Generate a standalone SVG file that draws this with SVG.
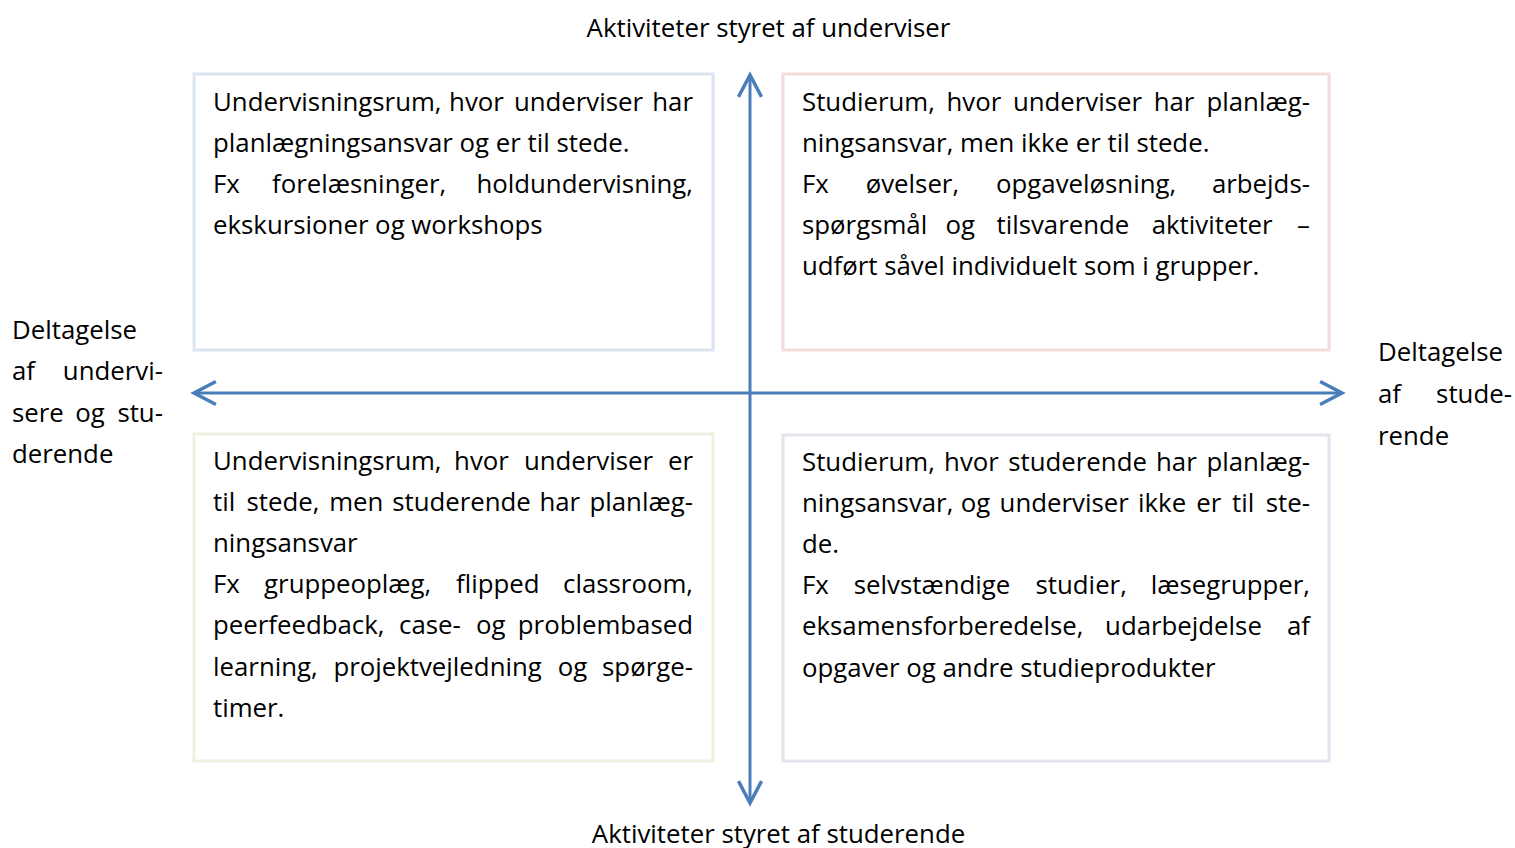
<svg xmlns="http://www.w3.org/2000/svg" width="1515" height="848" viewBox="0 0 1515 848">
<defs>
<style>
text{font-family:"Open Sans","Liberation Sans",sans-serif;font-size:25.8px;fill:#000}
.m{text-anchor:middle}
.e{text-anchor:end}
.box{fill:#fff;stroke-width:3}
.ax{stroke:#4a7ebb;stroke-width:3;fill:none}
</style>
<marker id="ah" markerUnits="userSpaceOnUse" markerWidth="30" markerHeight="30" viewBox="-22 -13 26 26" refX="0" refY="0" orient="auto-start-reverse">
<path d="M-19,-10 L0,0 L-19,10" fill="none" stroke="#4a7ebb" stroke-width="3"/>
</marker>
</defs>
<rect width="1515" height="848" fill="#fff"/>

<g id="connectors">
<line class="ax" x1="750" y1="75" x2="750" y2="803" marker-start="url(#ah)" marker-end="url(#ah)"/>
<line class="ax" x1="194" y1="393" x2="1342" y2="393" marker-start="url(#ah)" marker-end="url(#ah)"/>
</g>

<g id="label-top">
<text class="m" x="768.5" y="37">Aktiviteter styret af underviser</text>
</g>
<g id="label-bottom">
<text class="m" x="778.5" y="843">Aktiviteter styret af studerende</text>
</g>
<g id="label-left">
<text x="12" y="338.5">Deltagelse</text>
<text x="12" y="379.5">af</text><text class="e" x="163" y="379.5">undervi-</text>
<text x="12" y="421.5">sere</text><text class="m" x="90" y="421.5">og</text><text class="e" x="163" y="421.5">stu-</text>
<text x="12" y="462.5">derende</text>
</g>
<g id="label-right">
<text x="1378" y="360.5">Deltagelse</text>
<text x="1378" y="402.5">af</text><text class="e" x="1512" y="402.5">stude-</text>
<text x="1378" y="444.5">rende</text>
</g>

<g id="box-tl">
<rect class="box" x="194" y="74" width="519" height="276" stroke="#dbe5f2"/>
<text x="213" y="110.5">Undervisningsrum,</text><text class="m" x="476.5" y="110.5">hvor</text><text class="m" x="578.5" y="110.5">underviser</text><text class="e" x="693" y="110.5">har</text>
<text x="213" y="151.7">planlægningsansvar og er til stede.</text>
<text x="213" y="192.9">Fx</text><text class="m" x="359.1" y="192.9">forelæsninger,</text><text class="e" x="693" y="192.9">holdundervisning,</text>
<text x="213" y="234.1">ekskursioner og workshops</text>
</g>

<g id="box-tr">
<rect class="box" x="783" y="74" width="546" height="276" stroke="#f4dcdc"/>
<text x="802" y="110.5">Studierum,</text><text class="m" x="973.9" y="110.5">hvor</text><text class="m" x="1077.5" y="110.5">underviser</text><text class="m" x="1174" y="110.5">har</text><text class="e" x="1310" y="110.5">planlæg-</text>
<text x="802" y="151.7">ningsansvar, men ikke er til stede.</text>
<text x="802" y="192.9">Fx</text><text class="m" x="912.4" y="192.9">øvelser,</text><text class="m" x="1086.1" y="192.9">opgaveløsning,</text><text class="e" x="1310" y="192.9">arbejds-</text>
<text x="802" y="234.1">spørgsmål</text><text class="m" x="960.3" y="234.1">og</text><text class="m" x="1062.9" y="234.1">tilsvarende</text><text class="m" x="1212.2" y="234.1">aktiviteter</text><text class="e" x="1310" y="234.1">–</text>
<text x="802" y="275.3">udført såvel individuelt som i grupper.</text>
</g>

<g id="box-bl">
<rect class="box" x="194" y="434" width="519" height="327" stroke="#ecf1e0"/>
<text x="213" y="469.5">Undervisningsrum,</text><text class="m" x="481.5" y="469.5">hvor</text><text class="m" x="588.5" y="469.5">underviser</text><text class="e" x="693" y="469.5">er</text>
<text x="213" y="510.7">til</text><text class="m" x="282.9" y="510.7">stede,</text><text class="m" x="356.3" y="510.7">men</text><text class="m" x="461.5" y="510.7">studerende</text><text class="m" x="559.8" y="510.7">har</text><text class="e" x="693" y="510.7">planlæg-</text>
<text x="213" y="551.9">ningsansvar</text>
<text x="213" y="593.1">Fx</text><text class="m" x="347.7" y="593.1">gruppeoplæg,</text><text class="m" x="497.8" y="593.1">flipped</text><text class="e" x="693" y="593.1">classroom,</text>
<text x="213" y="634.3">peerfeedback,</text><text class="m" x="430" y="634.3">case-</text><text class="m" x="490.8" y="634.3">og</text><text class="e" x="693" y="634.3">problembased</text>
<text x="213" y="675.5">learning,</text><text class="m" x="437.6" y="675.5">projektvejledning</text><text class="m" x="572.5" y="675.5">og</text><text class="e" x="693" y="675.5">spørge-</text>
<text x="213" y="716.7">timer.</text>
</g>

<g id="box-br">
<rect class="box" x="783" y="435" width="546" height="326" stroke="#e8e2ef"/>
<text x="802" y="470.5">Studierum,</text><text class="m" x="971.5" y="470.5">hvor</text><text class="m" x="1077.6" y="470.5">studerende</text><text class="m" x="1176.4" y="470.5">har</text><text class="e" x="1310" y="470.5">planlæg-</text>
<text x="802" y="511.7">ningsansvar,</text><text class="m" x="975.6" y="511.7">og</text><text class="m" x="1064.2" y="511.7">underviser</text><text class="m" x="1162.1" y="511.7">ikke</text><text class="m" x="1208.8" y="511.7">er</text><text class="m" x="1243.2" y="511.7">til</text><text class="e" x="1310" y="511.7">ste-</text>
<text x="802" y="552.9">de.</text>
<text x="802" y="594.1">Fx</text><text class="m" x="932" y="594.1">selvstændige</text><text class="m" x="1081.2" y="594.1">studier,</text><text class="e" x="1310" y="594.1">læsegrupper,</text>
<text x="802" y="635.3">eksamensforberedelse,</text><text class="m" x="1183.5" y="635.3">udarbejdelse</text><text class="e" x="1310" y="635.3">af</text>
<text x="802" y="676.5">opgaver og andre studieprodukter</text>
</g>
</svg>
